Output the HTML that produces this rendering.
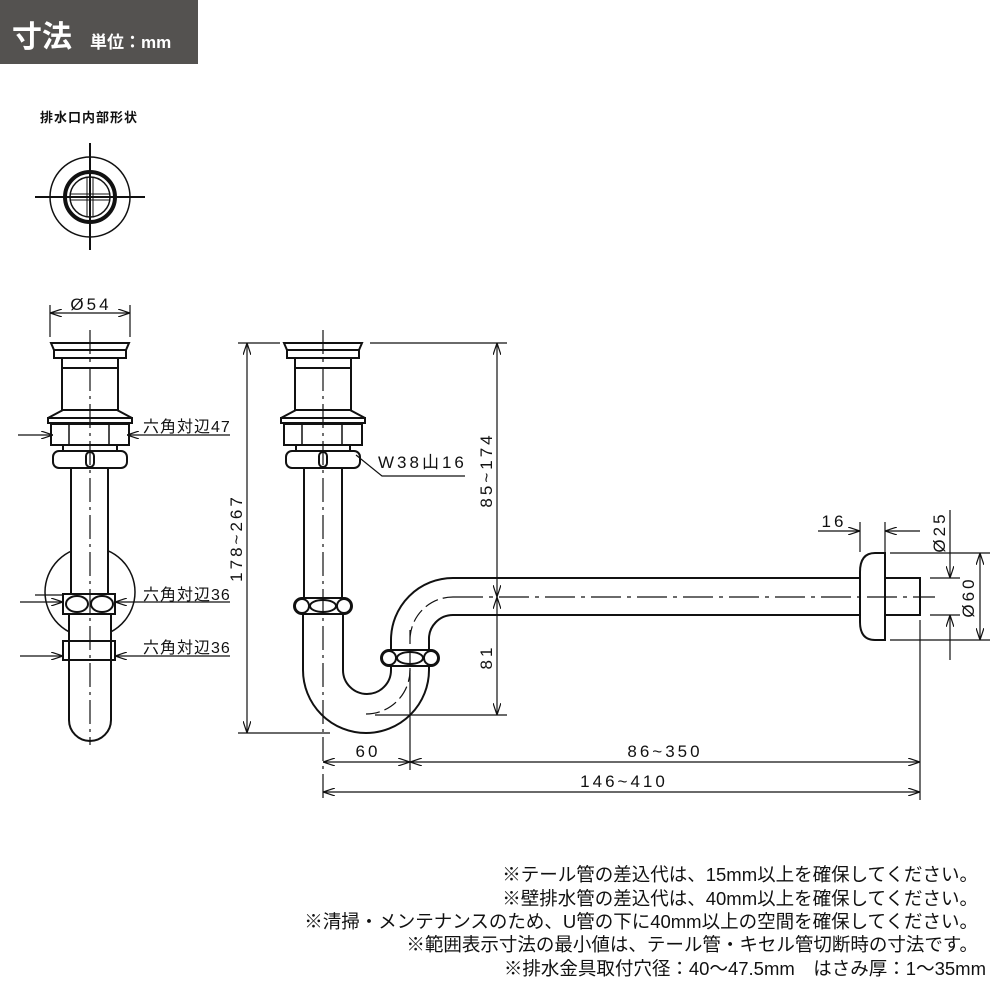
<!DOCTYPE html>
<html><head><meta charset="utf-8"><style>
html,body{margin:0;padding:0;background:#fff;}
svg{display:block;}
text{font-family:"Liberation Sans","Noto Sans CJK JP",sans-serif;fill:#111;}
.d{font-size:17px;letter-spacing:3px;}
</style></head><body>
<svg width="1000" height="1000" viewBox="0 0 1000 1000" xmlns="http://www.w3.org/2000/svg">
<defs>
<marker id="a" viewBox="0 0 12 8" refX="12" refY="4" markerWidth="12" markerHeight="8" markerUnits="userSpaceOnUse" orient="auto-start-reverse">
<path d="M0,0 L12,4 L0,8" fill="none" stroke="#111" stroke-width="1.2"/>
</marker>
<g id="top" fill="#fff" stroke="#111" stroke-width="2">
<path d="M-39,343 L39,343 L36,350 L-36,350 Z"/>
<rect x="-36" y="350" width="72" height="8"/>
<rect x="-28" y="358" width="56" height="52"/>
<line x1="-28" y1="368" x2="28" y2="368"/>
<path d="M-27,410 L27,410 L42,418 L-42,418 Z"/>
<rect x="-42" y="418" width="84" height="5"/>
<rect x="-39" y="424" width="78" height="21"/>
<line x1="-21" y1="424" x2="-21" y2="445" stroke-width="1.5"/>
<line x1="19" y1="424" x2="19" y2="445" stroke-width="1.5"/>
<rect x="-27" y="445" width="54" height="6"/>
<rect x="-37" y="451" width="74" height="17" rx="6"/>
<rect x="-4" y="452" width="8" height="15" rx="4"/>
</g>
</defs>

<rect x="0" y="0" width="198" height="64" fill="#545250"/>
<text x="12" y="47" font-size="30" font-weight="bold" style="fill:#fff">寸法</text>
<text x="90" y="48" font-size="17" font-weight="bold" style="fill:#fff">単位：mm</text>

<text x="40" y="122" font-size="13" font-weight="bold" letter-spacing="1">排水口内部形状</text>
<g fill="none" stroke="#111">
<circle cx="90" cy="197" r="40" stroke-width="1.5"/>
<circle cx="90" cy="197" r="25" stroke-width="4"/>
<circle cx="90" cy="197" r="20" stroke-width="1.5"/>
<line x1="35" y1="197" x2="145" y2="197" stroke-width="2"/>
<line x1="90" y1="143" x2="90" y2="250" stroke-width="2"/>
<line x1="87" y1="178" x2="87" y2="216" stroke-width="1"/>
<line x1="93" y1="178" x2="93" y2="216" stroke-width="1"/>
<line x1="71" y1="194" x2="109" y2="194" stroke-width="1"/>
<line x1="71" y1="200" x2="109" y2="200" stroke-width="1"/>
</g>

<g stroke="#111" fill="none" stroke-width="1.2">
<line x1="50" y1="305" x2="50" y2="337"/><line x1="130" y1="305" x2="130" y2="337"/>
<line x1="50" y1="313" x2="130" y2="313" marker-start="url(#a)" marker-end="url(#a)"/>
</g>
<text x="91" y="310" class="d" text-anchor="middle">Ø54</text>
<circle cx="90" cy="592" r="45" fill="#fff" stroke="#111" stroke-width="1.5"/>
<use href="#top" x="90"/>
<g fill="#fff" stroke="#111" stroke-width="2">
<rect x="71" y="468" width="37" height="126"/>
<path d="M69,614 L69,720 A21,21 0 0 0 111,720 L111,614"/>
<rect x="63" y="594" width="52" height="20"/>
<ellipse cx="77" cy="604" rx="11" ry="8"/><ellipse cx="102" cy="604" rx="11" ry="8"/>
<rect x="63" y="641" width="52" height="19"/>
<line x1="69" y1="641" x2="69" y2="660"/><line x1="111" y1="641" x2="111" y2="660"/>
</g>
<line x1="90" y1="330" x2="90" y2="745" stroke="#111" stroke-width="1.2" stroke-dasharray="24,5,3,5"/>
<g stroke="#111" stroke-width="1.2" fill="none">
<line x1="18" y1="435" x2="53" y2="435" marker-end="url(#a)"/>
<line x1="230" y1="435" x2="127" y2="435" marker-end="url(#a)"/>
<line x1="20" y1="602" x2="63" y2="602" marker-end="url(#a)"/>
<line x1="230" y1="602" x2="115" y2="602" marker-end="url(#a)"/>
<line x1="35" y1="595" x2="63" y2="595"/>
<line x1="20" y1="656" x2="63" y2="656" marker-end="url(#a)"/>
<line x1="230" y1="656" x2="115" y2="656" marker-end="url(#a)"/>
</g>
<text x="143" y="432" font-size="16" letter-spacing="1">六角対辺47</text>
<text x="143" y="600" font-size="16" letter-spacing="1">六角対辺36</text>
<text x="143" y="653" font-size="16" letter-spacing="1">六角対辺36</text>

<use href="#top" x="323"/>
<g fill="none" stroke="#111" stroke-width="2">
<line x1="304" y1="468" x2="304" y2="598"/><line x1="342" y1="468" x2="342" y2="598"/>
<path d="M303,614 L303,670 A63,63 0 0 0 429,670 L429,640 A24,24 0 0 1 453,615 L860,615"/>
<path d="M343,614 L343,670 A24,24 0 0 0 391,670 L391,640 A62,62 0 0 1 453,578 L860,578"/>
<rect x="294" y="598" width="58" height="16" rx="8" fill="#fff"/>
<circle cx="302" cy="606" r="7"/><circle cx="344" cy="606" r="7"/><ellipse cx="323" cy="606" rx="13" ry="6"/>
<rect x="381" y="650" width="58" height="16" rx="8" fill="#fff"/>
<circle cx="389" cy="658" r="7"/><circle cx="431" cy="658" r="7"/><ellipse cx="410" cy="658" rx="13" ry="6"/>
<path d="M885,553 L875,553 Q860,553 860,572 L860,622 Q860,640 875,640 L885,640 Z" fill="#fff"/>
<rect x="885" y="578" width="35" height="37" fill="#fff"/>
</g>
<g fill="none" stroke="#111" stroke-width="1.2">
<line x1="323" y1="330" x2="323" y2="800" stroke-dasharray="24,5,3,5"/>
<path d="M410,630 L410,670 A44,44 0 0 1 366,714 M410,640 A43,43 0 0 1 453,597" stroke-dasharray="14,5"/>
<line x1="410" y1="670" x2="410" y2="770"/>
<line x1="453" y1="597" x2="935" y2="597" stroke-dasharray="30,6,4,6"/>
<line x1="920" y1="620" x2="920" y2="800"/>
<line x1="238" y1="343" x2="280" y2="343"/><line x1="238" y1="733" x2="330" y2="733"/>
<line x1="247" y1="343" x2="247" y2="733" marker-start="url(#a)" marker-end="url(#a)"/>
<line x1="370" y1="343" x2="507" y2="343"/>
<line x1="497" y1="343" x2="497" y2="597" marker-start="url(#a)" marker-end="url(#a)"/>
<line x1="497" y1="597" x2="497" y2="715" marker-start="url(#a)" marker-end="url(#a)"/>
<line x1="375" y1="715" x2="507" y2="715"/>
<polyline points="356,455 382,476 465,476"/>
<line x1="323" y1="762" x2="410" y2="762" marker-start="url(#a)" marker-end="url(#a)"/>
<line x1="410" y1="762" x2="920" y2="762" marker-start="url(#a)" marker-end="url(#a)"/>
<line x1="323" y1="792" x2="920" y2="792" marker-start="url(#a)" marker-end="url(#a)"/>
<line x1="860" y1="522" x2="860" y2="552"/><line x1="885" y1="522" x2="885" y2="552"/>
<line x1="818" y1="531" x2="860" y2="531" marker-end="url(#a)"/>
<line x1="920" y1="531" x2="885" y2="531" marker-end="url(#a)"/>
<line x1="890" y1="553" x2="990" y2="553"/><line x1="890" y1="640" x2="990" y2="640"/>
<line x1="930" y1="578" x2="960" y2="578"/><line x1="930" y1="615" x2="960" y2="615"/>
<line x1="950" y1="510" x2="950" y2="578" marker-end="url(#a)"/>
<line x1="950" y1="660" x2="950" y2="615" marker-end="url(#a)"/>
<line x1="980" y1="553" x2="980" y2="640" marker-start="url(#a)" marker-end="url(#a)"/>
</g>
<text x="378" y="468" class="d">W38山16</text>
<text x="368" y="757" class="d" text-anchor="middle">60</text>
<text x="665" y="757" class="d" text-anchor="middle">86~350</text>
<text x="624" y="787" class="d" text-anchor="middle">146~410</text>
<text x="834" y="527" class="d" text-anchor="middle">16</text>
<text transform="translate(242,538) rotate(-90)" class="d" text-anchor="middle">178~267</text>
<text transform="translate(492,470) rotate(-90)" class="d" text-anchor="middle">85~174</text>
<text transform="translate(492,657) rotate(-90)" class="d" text-anchor="middle">81</text>
<text transform="translate(945,532) rotate(-90)" class="d" text-anchor="middle">Ø25</text>
<text transform="translate(974,597) rotate(-90)" class="d" text-anchor="middle">Ø60</text>

<g font-size="18.5" text-anchor="end">
<text x="978" y="881">※テール管の差込代は、15mm以上を確保してください。</text>
<text x="978" y="905">※壁排水管の差込代は、40mm以上を確保してください。</text>
<text x="978" y="928">※清掃・メンテナンスのため、U管の下に40mm以上の空間を確保してください。</text>
<text x="978" y="951">※範囲表示寸法の最小値は、テール管・キセル管切断時の寸法です。</text>
<text x="986" y="975">※排水金具取付穴径：40〜47.5mm　はさみ厚：1〜35mm</text>
</g>
</svg>
</body></html>
